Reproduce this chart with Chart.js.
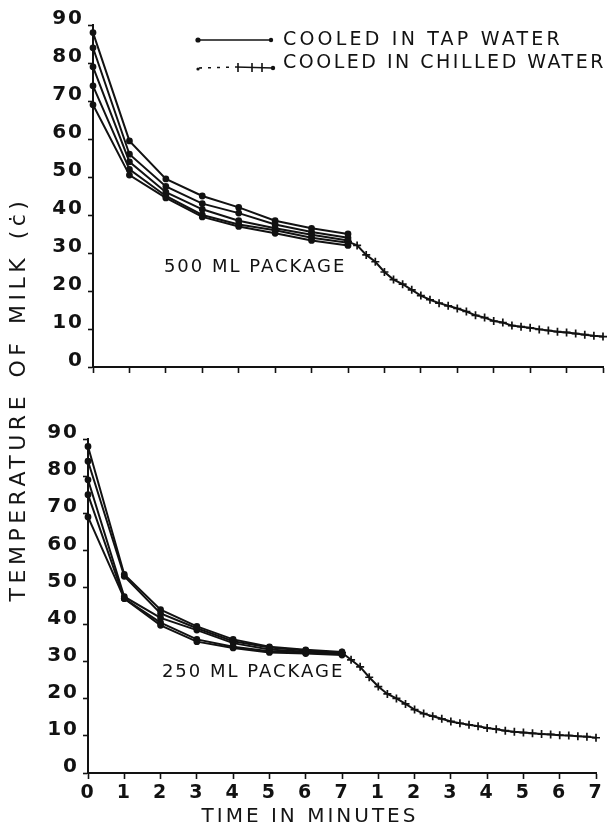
<!DOCTYPE html>
<html>
<head>
<meta charset="utf-8">
<script src="https://cdn.jsdelivr.net/npm/chart.js@4.4.1/dist/chart.umd.min.js"></script>
<style>
	html, body { margin:0; padding:0; background:#fff; }
	#wrap { position:relative; width:609px; height:829px; background:#fff; overflow:hidden; font-family:'DejaVu Sans', sans-serif; color:#151515; }
	#wrap canvas { position:absolute; left:0; }
	#topChart { top:0; }
	#bottomChart { top:400px; }
	.yTitle { position:absolute; left:-232px; top:386px; width:500px; height:26px; line-height:26px; text-align:center; font-size:22px; letter-spacing:4.5px; word-spacing:3px; transform:rotate(-90deg); white-space:nowrap; }
	.xTitle { position:absolute; left:160px; top:803px; width:300px; text-align:center; font-size:20px; letter-spacing:3px; white-space:nowrap; }
</style>
</head>
<body>
<div id="wrap">
	<canvas id="topChart" width="609" height="400"></canvas>
	<canvas id="bottomChart" width="609" height="429"></canvas>
	<div class="yTitle">TEMPERATURE OF MILK (ċ)</div>
	<div class="xTitle">TIME IN MINUTES</div>
</div>
<script>
// time axis: 0-7 min in tap water, then 1-7 min in chilled water
var tapMinutes = [0, 1, 2, 3, 4, 5, 6, 7];
var chilledMinutes = [7, 7.25, 7.5, 7.75, 8, 8.25, 8.5, 8.75, 9, 9.25, 9.5, 9.75, 10, 10.25, 10.5, 10.75, 11, 11.25, 11.5, 11.75, 12, 12.25, 12.5, 12.75, 13, 13.25, 13.5, 13.75, 14];
var timeTickLabels = ['0','1','2','3','4','5','6','7','1','2','3','4','5','6','7'];
var tempTicks = [0, 10, 20, 30, 40, 50, 60, 70, 80, 90];

// 500 ml package - tap water runs
var tap500Run1 = [88, 59.5, 49.5, 45, 42, 38.5, 36.5, 35];
var tap500Run2 = [84, 56, 47.5, 43, 40.5, 37.5, 35.5, 34];
var tap500Run3 = [79, 54, 46, 41.5, 38.5, 36.5, 34.8, 33.3];
var tap500Run4 = [74, 52, 45, 40, 37.5, 36, 34, 32.7];
var tap500Run5 = [69, 50.5, 44.5, 39.5, 37, 35.2, 33.3, 32];
// 500 ml package - chilled water
var chilled500 = [33, 32, 29.5, 27.7, 25, 23, 21.8, 20.3, 18.8, 17.7, 16.8, 16.1, 15.4, 14.6, 13.6, 13, 12.1, 11.7, 10.9, 10.6, 10.3, 9.9, 9.6, 9.3, 9.1, 8.8, 8.5, 8.2, 8];

// 250 ml package - tap water runs
var tap250Run1 = [88, 53.5, 44, 39.5, 36, 34, 33.2, 32.6];
var tap250Run2 = [84, 53, 43, 39, 35.5, 33.8, 33, 32.4];
var tap250Run3 = [79, 47.5, 41.8, 38.5, 35, 33.3, 32.7, 32.2];
var tap250Run4 = [75, 47, 40.5, 36, 34, 32.8, 32.4, 32];
var tap250Run5 = [69, 47, 39.8, 35.4, 33.7, 32.5, 32.2, 31.8];
// 250 ml package - chilled water
var chilled250 = [32.4, 30.5, 28.6, 25.8, 23.3, 21.3, 20.1, 18.6, 17.1, 16, 15.3, 14.6, 13.9, 13.4, 13, 12.6, 12.1, 11.8, 11.4, 11.1, 10.9, 10.7, 10.5, 10.4, 10.2, 10.1, 9.9, 9.8, 9.5];

var legendLabels = ['COOLED IN TAP WATER', 'COOLED IN CHILLED WATER'];
var panelLabels = ['500 ML PACKAGE', '250 ML PACKAGE'];

var inkColor = '#121212';

var toPoints = function(xs, ys) {
	var pts = [];
	for(var i = 0; i < xs.length; i++){
		pts.push({x: xs[i], y: ys[i]});
	}
	return pts;
};

var tapSet = function(values) {
	return {
		data: toPoints(tapMinutes, values),
		borderColor: inkColor,
		backgroundColor: inkColor,
		borderWidth: 2,
		pointStyle: 'circle',
		pointRadius: 2.4,
		pointBackgroundColor: inkColor,
		pointBorderColor: inkColor,
		tension: 0
	};
};

var chilledSet = function(values) {
	return {
		data: toPoints(chilledMinutes, values),
		borderColor: inkColor,
		backgroundColor: inkColor,
		borderWidth: 2,
		pointStyle: 'cross',
		pointRadius: 4,
		pointBorderWidth: 1.7,
		pointBorderColor: inkColor,
		tension: 0
	};
};

// spaced lettering for everything drawn on the canvas
var letteringPlugin = {
	id: 'lettering',
	beforeDraw: function(chart) {
		chart.ctx.letterSpacing = '2px';
	}
};

// package label placed in data units
var panelTextPlugin = {
	id: 'panelText',
	afterDatasetsDraw: function(chart, args, opts) {
		var ctx = chart.ctx;
		var xs = chart.scales.x, ys = chart.scales.y;
		ctx.save();
		ctx.font = '18px "DejaVu Sans"';
		ctx.letterSpacing = '2px';
		ctx.fillStyle = inkColor;
		ctx.textAlign = 'center';
		ctx.textBaseline = 'middle';
		ctx.fillText(opts.text, xs.getPixelForValue(opts.at[0]), ys.getPixelForValue(opts.at[1]));
		ctx.restore();
	}
};

var legendPlugin = {
	id: 'sampleLegend',
	afterDraw: function(chart) {
		var ctx = chart.ctx;
		ctx.save();
		ctx.strokeStyle = inkColor;
		ctx.fillStyle = inkColor;
		ctx.lineWidth = 1.6;
		// tap water sample
		ctx.beginPath(); ctx.moveTo(197, 40); ctx.lineTo(271, 40); ctx.stroke();
		ctx.beginPath(); ctx.arc(198, 40, 2.6, 0, Math.PI * 2); ctx.fill();
		ctx.beginPath(); ctx.arc(271, 40, 2.2, 0, Math.PI * 2); ctx.fill();
		// chilled water sample
		ctx.setLineDash([3, 6]);
		ctx.beginPath(); ctx.moveTo(199, 68); ctx.lineTo(236, 67); ctx.stroke();
		ctx.setLineDash([]);
		ctx.beginPath(); ctx.moveTo(236, 67); ctx.lineTo(273, 68); ctx.stroke();
		[238, 252, 262].forEach(function(px) {
			ctx.beginPath(); ctx.moveTo(px, 63); ctx.lineTo(px, 72); ctx.stroke();
		});
		ctx.beginPath(); ctx.arc(273, 68, 2.2, 0, Math.PI * 2); ctx.fill();
		ctx.beginPath(); ctx.arc(198, 69, 1.6, 0, Math.PI * 2); ctx.fill();
		ctx.font = '19px "DejaVu Sans"';
		ctx.letterSpacing = '3.2px';
		ctx.textAlign = 'left';
		ctx.textBaseline = 'middle';
		ctx.fillText(legendLabels[0], 283, 40);
		ctx.letterSpacing = '2.5px';
		ctx.fillText(legendLabels[1], 283, 63);
		ctx.restore();
	}
};

var panelFn = function(target, options) {
	var datasets = [];
	for(var i = 0; i < options.tapRuns.length; i++){
		datasets.push(tapSet(options.tapRuns[i]));
	}
	datasets.push(chilledSet(options.chilled));

	return new Chart(document.getElementById(target), {
		type: 'line',
		data: { datasets: datasets },
		plugins: [letteringPlugin, panelTextPlugin].concat(options.extraPlugins || []),
		options: {
			responsive: false,
			animation: false,
			devicePixelRatio: 1,
			clip: false,
			layout: { padding: options.padding },
			plugins: {
				legend: { display: false },
				tooltip: { enabled: false },
				panelText: { text: options.label, at: options.labelAt }
			},
			scales: {
				x: {
					type: 'linear',
					min: 0,
					max: 14,
					afterBuildTicks: function(scale) {
						scale.ticks = timeTickLabels.map(function(t, i) { return {value: i}; });
					},
					afterFit: function(scale) { scale.height = options.xHeight; },
					ticks: {
						display: options.showTimeLabels,
						autoSkip: false,
						maxRotation: 0,
						padding: 3,
						color: inkColor,
						font: { family: 'DejaVu Sans', size: 19, weight: 'bold' },
						callback: function(v) { return timeTickLabels[v]; }
					},
					grid: { drawOnChartArea: false, drawTicks: true, tickLength: 6, tickWidth: 1.6, tickColor: inkColor },
					border: { display: true, color: inkColor, width: 2 }
				},
				y: {
					min: 0,
					max: 90,
					afterBuildTicks: function(scale) {
						scale.ticks = tempTicks.map(function(t) { return {value: t}; });
					},
					afterFit: function(scale) { scale.width = options.yWidth; },
					ticks: {
						padding: 4,
						labelOffset: -6,
						color: inkColor,
						font: { family: 'DejaVu Sans', size: 20, weight: 'bold' }
					},
					grid: { drawOnChartArea: false, drawTicks: true, tickLength: 5, tickWidth: 1.6, tickColor: inkColor },
					border: { display: true, color: inkColor, width: 2 }
				}
			}
		}
	});
};

var topPanel = panelFn('topChart', {
	tapRuns: [tap500Run1, tap500Run2, tap500Run3, tap500Run4, tap500Run5],
	chilled: chilled500,
	label: panelLabels[0],
	labelAt: [4.45, 26.3],
	padding: { top: 25, right: 6, bottom: 12, left: 0 },
	xHeight: 21,
	yWidth: 93,
	showTimeLabels: false,
	extraPlugins: [legendPlugin]
});

var bottomPanel = panelFn('bottomChart', {
	tapRuns: [tap250Run1, tap250Run2, tap250Run3, tap250Run4, tap250Run5],
	chilled: chilled250,
	label: panelLabels[1],
	labelAt: [4.55, 27],
	padding: { top: 39, right: 13, bottom: 0, left: 0 },
	xHeight: 56,
	yWidth: 88,
	showTimeLabels: true
});
</script>
</body>
</html>
